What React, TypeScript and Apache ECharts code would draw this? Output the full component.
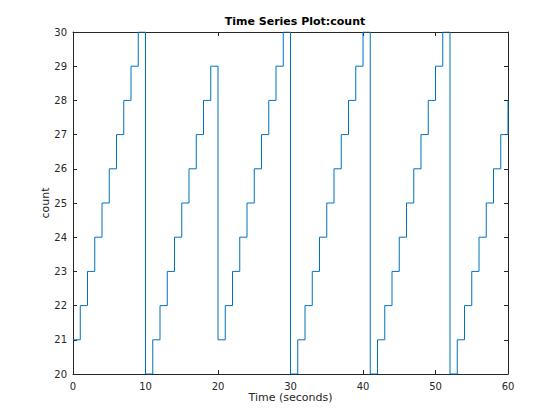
import React, { useEffect, useRef } from "react";
import * as echarts from "echarts";

const times: number[] = [
  0, 1, 2, 3, 4, 5, 6, 7, 8, 9,
  10, 11, 12, 13, 14, 15, 16, 17, 18, 19,
  20, 21, 22, 23, 24, 25, 26, 27, 28, 29,
  30, 31, 32, 33, 34, 35, 36, 37, 38, 39, 40,
  41, 42, 43, 44, 45, 46, 47, 48, 49, 50, 51,
  52, 53, 54, 55, 56, 57, 58, 59, 60,
];
const counts: number[] = [
  21, 22, 23, 24, 25, 26, 27, 28, 29, 30,
  20, 21, 22, 23, 24, 25, 26, 27, 28, 29,
  21, 22, 23, 24, 25, 26, 27, 28, 29, 30,
  20, 21, 22, 23, 24, 25, 26, 27, 28, 29, 30,
  20, 21, 22, 23, 24, 25, 26, 27, 28, 29, 30,
  20, 21, 22, 23, 24, 25, 26, 27, 28,
];

const titleText = "Time Series Plot:count";
const xLabel = "Time (seconds)";
const yLabel = "count";

const FONT = "DejaVu Sans";
const AX = "#262626";

export default function App() {
  const ref = useRef<HTMLDivElement>(null);
  useEffect(() => {
    if (!ref.current) return;
    const chart = echarts.init(ref.current, undefined, { renderer: "svg" });
    const data = times.map((t, i) => [t, counts[i]]);
    const axisCommon = {
      axisLine: { show: true, onZero: false, lineStyle: { color: AX, width: 1 } },
      axisTick: { show: true, inside: true, length: 4, lineStyle: { color: AX } },
      splitLine: { show: false },
    };
    chart.setOption({
      animation: false,
      backgroundColor: "#ffffff",
      title: {
        text: titleText,
        left: 290,
        top: 11,
        textAlign: "center",
        textStyle: { fontFamily: FONT, fontSize: 11, fontWeight: "bold", color: "#000" },
      },
      grid: { left: 73, right: 52, top: 32, bottom: 46, containLabel: false },
      xAxis: [
        {
          type: "value",
          min: 0,
          max: 60,
          interval: 10,
          position: "bottom",
          ...axisCommon,
          axisLabel: { fontFamily: FONT, fontSize: 10, color: AX, margin: 7 },
          name: xLabel,
          nameLocation: "middle",
          nameGap: 18,
          nameMoveOverlap: false,
          nameTextStyle: { fontFamily: FONT, fontSize: 11, color: AX },
        },
        {
          type: "value",
          min: 0,
          max: 60,
          interval: 10,
          position: "top",
          ...axisCommon,
          axisLabel: { show: false },
        },
      ],
      yAxis: [
        {
          type: "value",
          min: 20,
          max: 30,
          interval: 1,
          position: "left",
          ...axisCommon,
          axisLabel: { fontFamily: FONT, fontSize: 10, color: AX, margin: 6 },
          name: yLabel,
          nameLocation: "middle",
          nameGap: 22,
          nameMoveOverlap: false,
          nameTextStyle: { fontFamily: FONT, fontSize: 11, color: AX },
        },
        {
          type: "value",
          min: 20,
          max: 30,
          interval: 1,
          position: "right",
          ...axisCommon,
          axisLabel: { show: false },
        },
      ],
      series: [
        {
          type: "line",
          step: "end",
          data,
          xAxisIndex: 0,
          yAxisIndex: 0,
          showSymbol: false,
          symbol: "none",
          lineStyle: { color: "#0072BD", width: 1 },
          clip: true,
        },
      ],
    });
    return () => chart.dispose();
  }, []);
  return (
    <div
      ref={ref}
      style={{ position: "fixed", left: 0, top: 0, width: 560, height: 420, background: "#fff" }}
    />
  );
}
